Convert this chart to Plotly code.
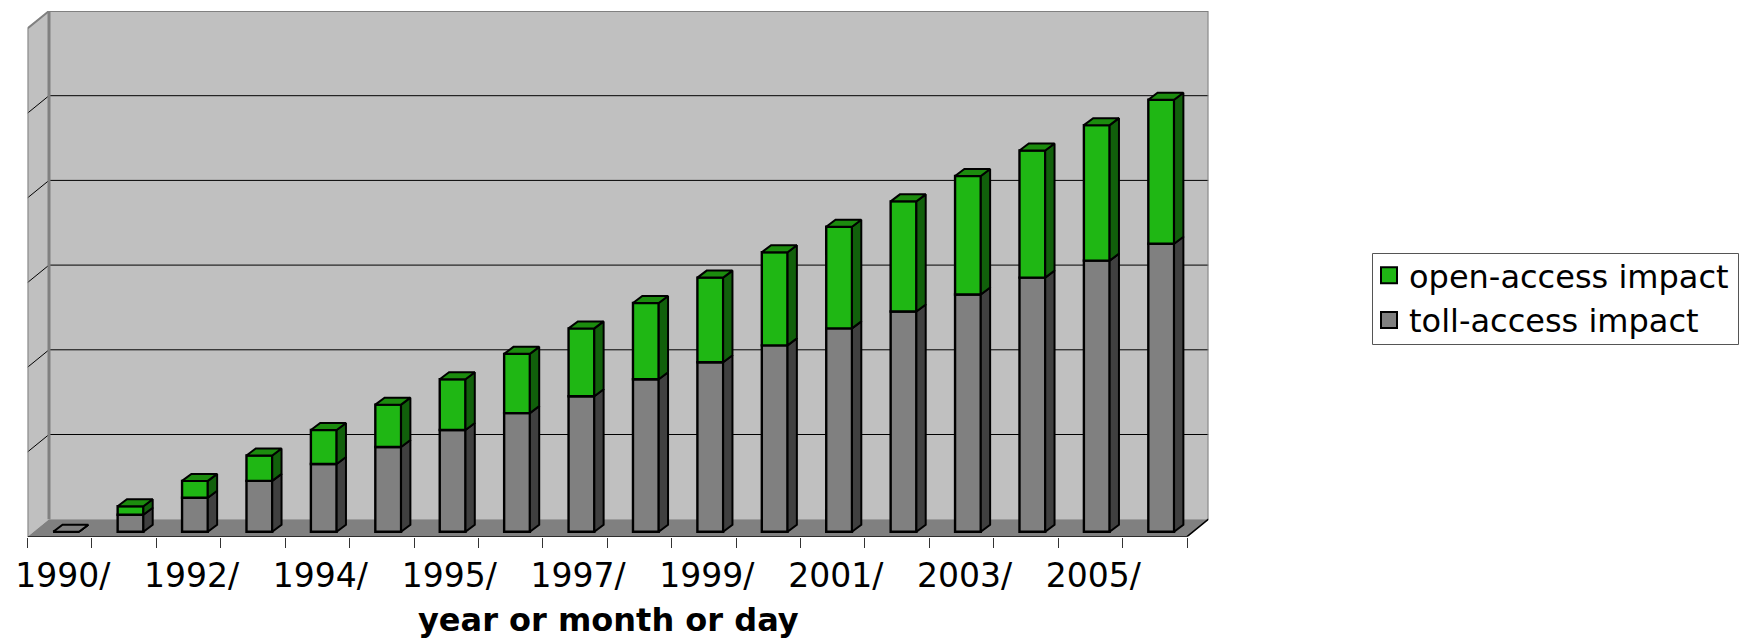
import plotly.graph_objects as go

# Data (units = gridline intervals; the value axis has no labels)
toll_access = [0.0, 0.2, 0.4, 0.6, 0.8, 1.0, 1.2, 1.4, 1.6, 1.8, 2.0, 2.2, 2.4, 2.6, 2.8, 3.0, 3.2, 3.4]
open_access = [0.0, 0.1, 0.2, 0.3, 0.4, 0.5, 0.6, 0.7, 0.8, 0.9, 1.0, 1.1, 1.2, 1.3, 1.4, 1.5, 1.6, 1.7]
tick_labels = ["1990/", "1992/", "1994/", "1995/", "1997/", "1999/", "2001/", "2003/", "2005/"]
tick_index = [0, 2, 4, 6, 8, 10, 12, 14, 16]
SERIES_OPEN = "open-access impact"
SERIES_TOLL = "toll-access impact"
AXIS_TITLE = "year or month or day"
Y_MAX = 6

W, H = 1748, 640
PX_L, PX_R, PX_B, PX_T = 27.5, 1208.5, 536.7, 11.0
n = len(toll_access)
UX = (1187.0 - PX_L) / n
UY = 84.7
DX = (PX_R - 1187.0) / UX      # wall depth in data units
DY = 17.5 / UY
BAR_X = 6.4 / UX               # front plane of the bars
BAR_Y = 5.0 / UY
BD_X = 9.3 / UX                # bar depth
BD_Y = 7.0 / UY
BAR_W = 0.4
LABEL_SHIFT = 3.0 / UX

GREEN, GREEN_TOP, GREEN_SIDE = "#1fb714", "#1c8c0e", "#11600b"
GREY, GREY_SIDE = "#808080", "#404040"
WALL = "#c0c0c0"
EDGE = "#808080"

xs = [i + 0.5 + BAR_X for i in range(n)]
bot = [BAR_Y] * n
mid = [BAR_Y + t for t in toll_access]
top = [m + o for m, o in zip(mid, open_access)]


def side_polys(lo, hi):
    px, py = [], []
    for x, a, b in zip(xs, lo, hi):
        r = x + BAR_W / 2
        px += [r, r + BD_X, r + BD_X, r, r, None]
        py += [a, a + BD_Y, b + BD_Y, b, a, None]
    return px, py


def top_polys(hi, keep):
    px, py = [], []
    for x, b, k in zip(xs, hi, keep):
        if not k:
            continue
        l, r = x - BAR_W / 2, x + BAR_W / 2
        px += [l, r, r + BD_X, l + BD_X, l, None]
        py += [b, b, b + BD_Y, b + BD_Y, b, None]
    return px, py


fig = go.Figure()

# walls and floor
shapes = [
    dict(type="rect", x0=DX, x1=n + DX, y0=DY, y1=Y_MAX + DY, fillcolor=WALL, line_width=0, layer="below"),
    dict(type="path", path=f"M 0 0 L {DX} {DY} L {DX} {Y_MAX + DY} L 0 {Y_MAX} Z", fillcolor=WALL, line_width=0, layer="below"),
    dict(type="path", path=f"M 0 0 L {n} 0 L {n + DX} {DY} L {DX} {DY} Z", fillcolor=GREY, line_width=0, layer="below"),
    # legend frame
    dict(type="rect", xref="paper", yref="paper", x0=1372.5 / W, x1=1738.5 / W, y0=1 - 344.5 / H, y1=1 - 253.5 / H,
         fillcolor="white", line=dict(color="#555555", width=1), layer="below"),
]
for k in range(1, Y_MAX):
    shapes.append(dict(type="line", x0=DX, x1=n + DX, y0=k + DY, y1=k + DY, line=dict(color="black", width=1), layer="below"))
    shapes.append(dict(type="line", x0=0, x1=DX, y0=k, y1=k + DY, line=dict(color="black", width=1), layer="below"))

LW = 2.4

# front faces
fig.add_bar(x=xs, y=toll_access, base=bot, width=BAR_W, name=SERIES_TOLL, showlegend=False,
            marker=dict(color=GREY, line=dict(color="black", width=LW)))
fig.add_bar(x=xs, y=open_access, base=mid, width=BAR_W, name=SERIES_OPEN, showlegend=False,
            marker=dict(color=GREEN, line=dict(color="black", width=LW)))

# side and top faces
for (px, py), col, nm in [
    (side_polys(bot, mid), GREY_SIDE, SERIES_TOLL),
    (side_polys(mid, top), GREEN_SIDE, SERIES_OPEN),
    (top_polys(top, [v > 0 for v in open_access]), GREEN_TOP, SERIES_OPEN),
    (top_polys(top, [v == 0 for v in open_access]), GREY, SERIES_TOLL),
]:
    fig.add_scatter(x=px, y=py, mode="lines", fill="toself", fillcolor=col, name=nm,
                    line=dict(color="black", width=2), showlegend=False, hoverinfo="skip")

# frame edges
fig.add_scatter(x=[0, 0, DX, n + DX, n + DX], y=[0, Y_MAX, Y_MAX + DY, Y_MAX + DY, DY], mode="lines",
                line=dict(color=EDGE, width=2), showlegend=False, hoverinfo="skip", cliponaxis=False)
fig.add_scatter(x=[DX, DX], y=[DY, Y_MAX + DY], mode="lines",
                line=dict(color=EDGE, width=3), showlegend=False, hoverinfo="skip", cliponaxis=False)
fig.add_scatter(x=[0, n, n + DX], y=[0, 0, DY], mode="lines",
                line=dict(color="black", width=1.5), showlegend=False, hoverinfo="skip", cliponaxis=False)

# legend swatches
for nm, col, grp in [(SERIES_OPEN, GREEN, "a"), (SERIES_TOLL, GREY, "b")]:
    fig.add_scatter(x=[None], y=[None], mode="markers", name=nm, legendgroup=grp,
                    marker=dict(symbol="square", size=20, color=col, line=dict(color="black", width=2)))

fig.update_layout(
    width=W, height=H, margin=dict(l=0, r=0, t=0, b=0), autosize=False,
    paper_bgcolor="white", plot_bgcolor="rgba(0,0,0,0)",
    barmode="overlay", shapes=shapes,
    font=dict(family="DejaVu Sans", color="black", size=32),
    xaxis=dict(
        domain=[PX_L / W, PX_R / W], range=[0, n + DX], showgrid=False, zeroline=False, showline=False,
        automargin=False,
        tickmode="array", tickvals=[i + 0.5 + LABEL_SHIFT for i in tick_index], ticktext=tick_labels, ticks="",
        ticklabelstandoff=16,
        tickfont=dict(size=33),
        minor=dict(tickmode="array", tickvals=list(range(n + 1)), ticks="outside", ticklen=10, tickwidth=1, tickcolor="#333333", showgrid=False),
    ),
    yaxis=dict(
        domain=[1 - PX_B / H, 1 - PX_T / H], range=[0, Y_MAX + DY], visible=False, automargin=False,
    ),
    annotations=[dict(text=f"<b>{AXIS_TITLE}</b>", x=608 / W, xref="paper", xanchor="center",
                      y=0, yref="paper", yanchor="bottom", showarrow=False, borderpad=0, font=dict(size=32))],
    legend=dict(
        x=1369 / W, xanchor="left", y=1 - 248 / H, yanchor="top",
        bgcolor="rgba(0,0,0,0)", borderwidth=0,
        itemsizing="trace", tracegroupgap=5, font=dict(size=32),
        traceorder="normal", itemclick=False, itemdoubleclick=False,
    ),
)

fig.write_html("out.html", config={"displayModeBar": False}, post_script="document.body.style.margin='0';")
